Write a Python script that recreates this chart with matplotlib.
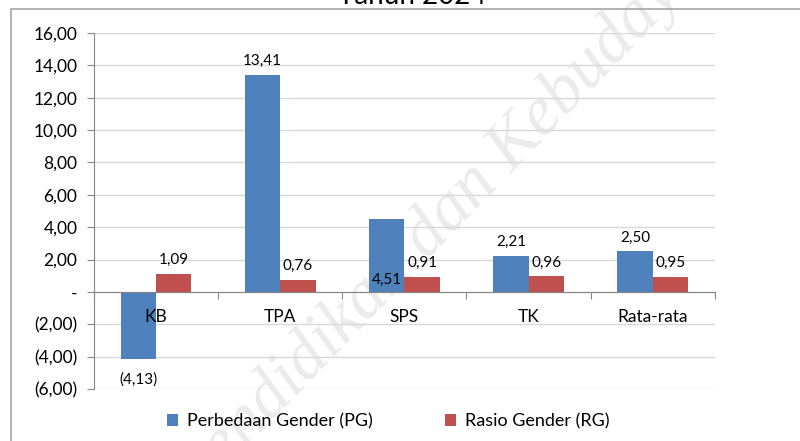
import numpy as np
import matplotlib.pyplot as plt
from matplotlib.patches import Rectangle
from matplotlib.ticker import FuncFormatter

# datos
categorias = ['KB', 'TPA', 'SPS', 'TK', 'Rata-rata']
pg = [-4.13, 13.41, 4.51, 2.21, 2.50]
rg = [1.09, 0.76, 0.91, 0.96, 0.95]
nombre_pg = 'Perbedaan Gender (PG)'
nombre_rg = 'Rasio Gender (RG)'
titulo = 'Tahun 2024'
marca_agua = 'Pendidikan dan Kebudayaan'

azul = '#4f81bd'
rojo = '#c0504d'
gris = '#868686'

plt.rcParams['font.family'] = ['Lato', 'DejaVu Sans']


def fmt_num(v):
    s = f'{abs(v):.2f}'.replace('.', ',')
    return f'({s})' if v < 0 else s


def fmt_eje(v, pos):
    if abs(v) < 1e-9:
        return '-'
    return fmt_num(v)


fig = plt.figure(figsize=(8, 4.41), dpi=100)
ax = fig.add_axes([0.1175, 0.118, 0.776, 0.807])
ax.patch.set_visible(False)

x = np.arange(len(categorias))
w = 0.285
b1 = ax.bar(x - w / 2, pg, w, color=azul, label=nombre_pg, zorder=3)
b2 = ax.bar(x + w / 2, rg, w, color=rojo, label=nombre_rg, zorder=3)

ax.set_xlim(-0.5, len(categorias) - 0.5)
ax.set_ylim(-6, 16)
ax.set_yticks(np.arange(-6, 17, 2))
ax.yaxis.set_major_formatter(FuncFormatter(fmt_eje))
ax.grid(axis='y', color='#d9d9d9', lw=1, zorder=0)

# eje x en cero, ticks en los limites de categoria
ax.spines['bottom'].set_position(('data', 0))
ax.spines['bottom'].set_zorder(4)
for s in ['top', 'right']:
    ax.spines[s].set_visible(False)
ax.spines['bottom'].set_color(gris)
ax.spines['left'].set_color(gris)
ax.set_xticks(np.arange(-0.5, len(categorias), 1))
ax.set_xticklabels([])
ax.tick_params(axis='x', length=5, color=gris, direction='out')
ax.tick_params(axis='y', length=5, color=gris, labelsize=12.5, pad=7)

# nombres de categoria encima de las barras
for i, c in enumerate(categorias):
    ax.annotate(c, (x[i], 0), xytext=(0, -18), textcoords='offset points',
                ha='center', va='center', fontsize=12.5, zorder=6)

# etiquetas de datos
for i, r in enumerate(b1):
    cx = r.get_x() + r.get_width() / 2
    v = pg[i]
    if v < 0:
        ax.annotate(fmt_num(v), (cx, v), xytext=(0, -10), textcoords='offset points',
                    ha='center', va='top', fontsize=11, zorder=6)
    elif categorias[i] == 'SPS':
        ax.annotate(fmt_num(v), (cx, 0), xytext=(0, 9), textcoords='offset points',
                    ha='center', va='center', fontsize=11, zorder=6)
    else:
        ax.annotate(fmt_num(v), (cx, v), xytext=(0, 5), textcoords='offset points',
                    ha='center', va='bottom', fontsize=11, zorder=6)
for i, r in enumerate(b2):
    cx = r.get_x() + r.get_width() / 2
    ax.annotate(fmt_num(rg[i]), (cx, rg[i]), xytext=(0, 5), textcoords='offset points',
                ha='center', va='bottom', fontsize=11, zorder=6)

ax.legend(loc='center', bbox_to_anchor=(0.485, 0.045), bbox_transform=fig.transFigure,
          ncol=2, frameon=False, fontsize=13, handlelength=0.6, handleheight=0.6,
          handletextpad=0.5, columnspacing=4.0)

# titulo cortado y marco
fig.text(0.515, 0.99, titulo, ha='center', va='baseline', fontsize=20)
fig.patches.append(Rectangle((0.014, -0.1), 1.2, 1.08, transform=fig.transFigure,
                             fill=False, edgecolor='#a6a6a6', lw=1.2, clip_on=False))

# marca de agua, detras del grafico
fig.text(0.58, 0.55, marca_agua, ha='center', va='center', rotation=46,
         fontsize=50, family='Liberation Serif', style='italic', color='#ebebeb',
         zorder=-1)

fig.savefig('out.png', dpi=100)
